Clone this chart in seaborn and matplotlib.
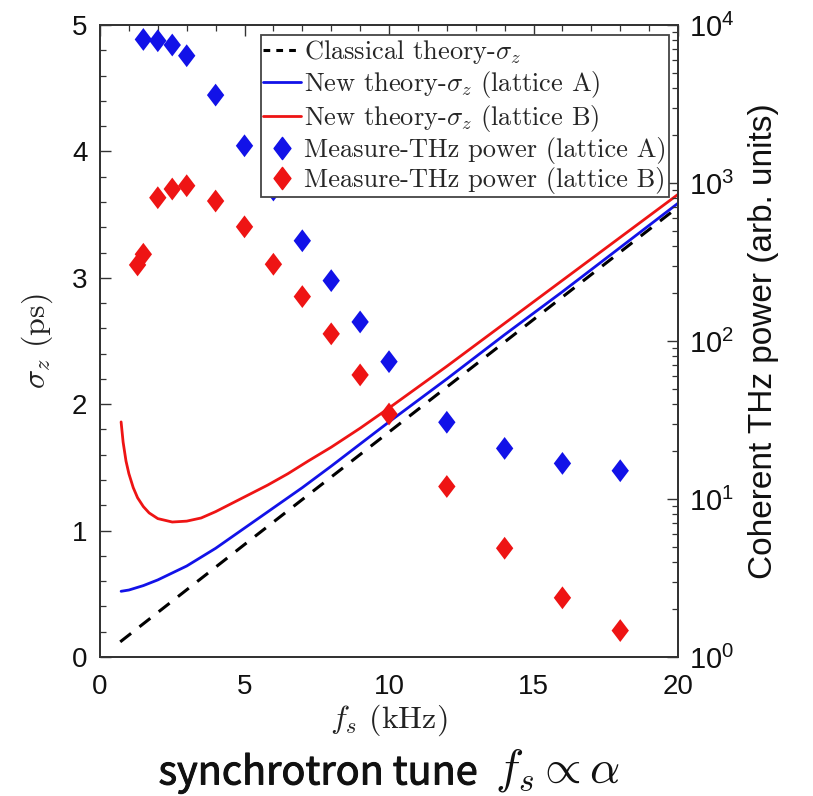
import numpy as np
import pandas as pd
import matplotlib
matplotlib.use("Agg")
import matplotlib.pyplot as plt
import matplotlib.patheffects as pe
import seaborn as sns
from matplotlib.markers import MarkerStyle
from matplotlib.path import Path
from matplotlib.lines import Line2D
from matplotlib.ticker import FixedLocator, LogLocator, NullFormatter, FuncFormatter

# ---------------- data ----------------
fs_classical = [0.7, 5, 10, 15, 20]
sigma_classical = [0.12, 0.89, 1.78, 2.67, 3.56]

fs_theory_A = [0.73, 1.0, 1.5, 2.0, 2.5, 3.0, 3.5, 4.0, 5.0, 6.0, 7.0, 8.0, 9.0, 10, 12, 14, 16, 18, 20]
sigma_theory_A = [0.52, 0.53, 0.565, 0.61, 0.665, 0.72, 0.79, 0.86, 1.02, 1.18, 1.34, 1.51, 1.685, 1.86,
                  2.20, 2.55, 2.89, 3.24, 3.59]

fs_theory_B = [0.73, 0.8, 0.9, 1.0, 1.15, 1.3, 1.5, 1.7, 2.0, 2.5, 3.0, 3.5, 4.0, 4.6, 5.2, 5.8, 6.5,
               7.2, 8.0, 9.0, 10, 12, 14, 16, 18, 20]
sigma_theory_B = [1.86, 1.70, 1.55, 1.45, 1.34, 1.26, 1.19, 1.14, 1.095, 1.068, 1.075, 1.10, 1.15, 1.22,
                  1.29, 1.36, 1.45, 1.55, 1.66, 1.81, 1.97, 2.30, 2.64, 2.98, 3.32, 3.66]

fs_meas_A = [1.5, 2, 2.5, 3, 4, 5, 6, 7, 8, 9, 10, 12, 14, 16, 18]
power_meas_A = [8100, 7950, 7470, 6390, 3600, 1720, 903, 431, 241, 132, 74, 30.6, 20.9, 16.8, 15.1]

fs_meas_B = [1.3, 1.5, 2, 2.5, 3, 4, 5, 6, 7, 8, 9, 10, 12, 14, 16, 18]
power_meas_B = [303, 354, 807, 916, 961, 769, 528, 306, 191, 111, 61, 34.5, 12, 4.88, 2.37, 1.47]

labels = [r"Classical theory-$\sigma_z$",
          r"New theory-$\sigma_z$ (lattice A)",
          r"New theory-$\sigma_z$ (lattice B)",
          r"Measure-THz power (lattice A)",
          r"Measure-THz power (lattice B)"]

BLUE = "#1212E8"
RED = "#EE1414"

sns.set_theme(style="white")
plt.rcParams["font.family"] = ["Liberation Sans", "DejaVu Sans"]
plt.rcParams["mathtext.fontset"] = "cm"
plt.rcParams["axes.unicode_minus"] = False

fig = plt.figure(figsize=(8.13, 7.96), dpi=100)
ax = fig.add_axes([0.123, 0.1746, 0.711, 0.794])

df_c = pd.DataFrame({"fs": fs_classical, "sigma": sigma_classical})
df_a = pd.DataFrame({"fs": fs_theory_A, "sigma": sigma_theory_A})
df_b = pd.DataFrame({"fs": fs_theory_B, "sigma": sigma_theory_B})

sns.lineplot(data=df_c, x="fs", y="sigma", ax=ax, color="black", lw=2.2,
             linestyle=(0, (4.5, 3.5)), sort=False)
sns.lineplot(data=df_a, x="fs", y="sigma", ax=ax, color=BLUE, lw=2.0, sort=False)
sns.lineplot(data=df_b, x="fs", y="sigma", ax=ax, color=RED, lw=2.0, sort=False)

ax.set_xlim(0, 20)
ax.set_ylim(0, 5)
ax.set_xticks([0, 5, 10, 15, 20])
ax.set_yticks([0, 1, 2, 3, 4, 5])
ax.xaxis.set_minor_locator(FixedLocator(np.arange(0, 20.01, 1)))
ax.yaxis.set_minor_locator(FixedLocator(np.arange(0, 5.01, 0.2)))
ax.tick_params(axis="both", which="both", direction="in", top=True, right=False,
               colors="#333333", labelcolor="#111111")
ax.tick_params(axis="both", which="major", length=8, width=1.0, labelsize=20)
ax.tick_params(axis="both", which="minor", length=4, width=0.9)
ax.tick_params(axis="x", pad=12)
ax.tick_params(axis="y", pad=9)
ax.set_xlabel(r"$f_s$ (kHz)", fontfamily="cmr10", fontsize=23, labelpad=2, color="#222222")
ax.set_ylabel(r"$\sigma_z$ (ps)", fontfamily="cmr10", fontsize=23, labelpad=12, color="#222222")

ax2 = ax.twinx()
diamond = MarkerStyle(Path([(0, 1), (0.76, 0), (0, -1), (-0.76, 0), (0, 1)],
                           [Path.MOVETO, Path.LINETO, Path.LINETO, Path.LINETO, Path.CLOSEPOLY]))
df_ma = pd.DataFrame({"fs": fs_meas_A, "p": power_meas_A})
df_mb = pd.DataFrame({"fs": fs_meas_B, "p": power_meas_B})
sns.scatterplot(data=df_ma, x="fs", y="p", ax=ax2, marker=diamond, s=270,
                color=BLUE, edgecolor="none", linewidth=0, zorder=3)
sns.scatterplot(data=df_mb, x="fs", y="p", ax=ax2, marker=diamond, s=270,
                color=RED, edgecolor="none", linewidth=0, zorder=3)
ax2.set_yscale("log")
ax2.set_ylim(1, 1e4)
ax2.set_xlim(0, 20)
ax2.yaxis.set_major_locator(LogLocator(base=10, numticks=10))
ax2.yaxis.set_minor_locator(LogLocator(base=10, subs=np.arange(2, 10), numticks=20))
ax2.yaxis.set_minor_formatter(NullFormatter())
ax2.yaxis.set_major_formatter(FuncFormatter(lambda v, p: r"$\mathdefault{10^{%d}}$" % round(np.log10(v))))
ax2.tick_params(axis="y", which="both", direction="in", colors="#333333", labelcolor="#111111")
ax2.tick_params(axis="y", which="major", length=8, width=1.0, labelsize=21, pad=8)
ax2.tick_params(axis="y", which="minor", length=4, width=0.9)
ax2.set_xlabel("")
ax2.set_ylabel("Coherent THz power (arb. units)", fontsize=24, labelpad=10, color="#111111")

for a in (ax, ax2):
    for sp in a.spines.values():
        sp.set_color("#333333")
        sp.set_linewidth(1.3)

handles = [
    Line2D([], [], color="black", lw=2.2, linestyle=(0, (2.2, 2.0))),
    Line2D([], [], color=BLUE, lw=2.0),
    Line2D([], [], color=RED, lw=2.0),
    Line2D([], [], color=BLUE, marker=diamond, markersize=16, linestyle="none"),
    Line2D([], [], color=RED, marker=diamond, markersize=16, linestyle="none"),
]
leg = ax2.legend(handles, labels, loc="upper right", bbox_to_anchor=(0.985, 0.984),
                 prop={"family": "cmr10", "size": 19}, frameon=True, fancybox=False,
                 edgecolor="#444444", framealpha=1, borderpad=0.1, labelspacing=0.12,
                 handlelength=1.45, handletextpad=0.1, borderaxespad=0)
leg.get_frame().set_linewidth(1.3)

fig.text(0.195, 0.0145, "synchrotron tune", fontsize=28.5, fontfamily="Noto Sans CJK SC",
         color="#111111", ha="left", va="baseline",
         path_effects=[pe.withStroke(linewidth=0.7, foreground="#111111")])
fig.text(0.609, 0.0165, r"$f_s \propto \alpha$", fontsize=34, color="#111111",
         ha="left", va="baseline")

fig.savefig("out.png", dpi=100)
